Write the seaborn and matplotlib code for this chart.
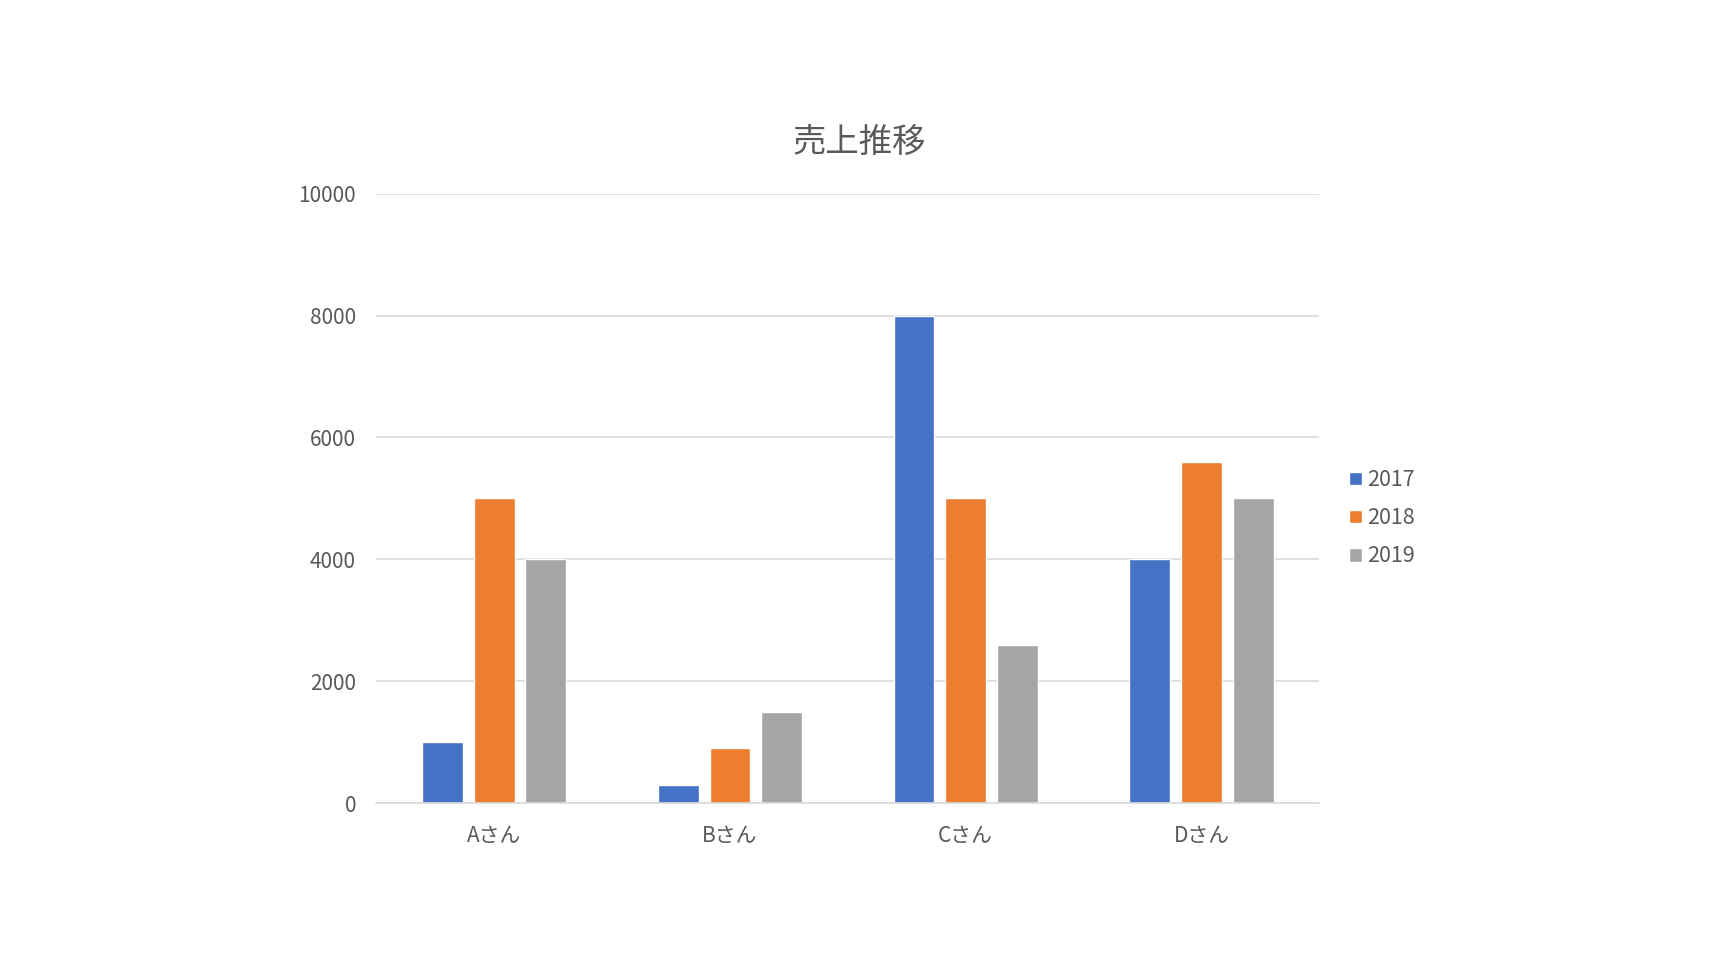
import pandas as pd
import matplotlib
matplotlib.use("Agg")
import matplotlib.pyplot as plt
import seaborn as sns

# データ
names = ["Aさん", "Bさん", "Cさん", "Dさん"]
years = ["2017", "2018", "2019"]
sales_2017 = [1000, 300, 8000, 4000]
sales_2018 = [5000, 900, 5000, 5600]
sales_2019 = [4000, 1500, 2600, 5000]
colors = ["#4472C4", "#ED7D31", "#A5A5A5"]

df = pd.DataFrame({
    "name": names * 3,
    "year": [y for y in years for _ in names],
    "sales": sales_2017 + sales_2018 + sales_2019,
})

sns.set_style("white")
plt.rcParams["font.family"] = ["Noto Sans CJK JP", "DejaVu Sans"]
txt = "#595959"

fig = plt.figure(figsize=(17.18, 9.64), dpi=100)
ax = fig.add_axes([0.219, 0.167, 0.549, 0.632])

sns.barplot(data=df, x="name", y="sales", hue="year", palette=colors,
            width=0.658, gap=0.21, ax=ax, saturation=1)

ax.set_xlim(-0.5, 3.5)
ax.set_ylim(0, 10000)
ax.set_yticks(range(0, 10001, 2000))
ax.yaxis.grid(True, color="#D9D9D9", linewidth=1.2)
ax.set_axisbelow(True)
for s in ["top", "right", "left"]:
    ax.spines[s].set_visible(False)
ax.spines["bottom"].set_color("#D9D9D9")
ax.spines["bottom"].set_linewidth(1.2)
ax.tick_params(axis="both", length=0, labelsize=15, colors=txt)
ax.tick_params(axis="y", pad=14.5)
ax.tick_params(axis="x", pad=15.5)
ax.set_xlabel("")
ax.set_ylabel("")

fig.text(0.500, 0.852, "売上推移", ha="center", va="center", fontsize=24, color=txt)

handles, labels = ax.get_legend_handles_labels()
leg = ax.legend(handles, labels, loc="center left", bbox_to_anchor=(0.779, 0.4625),
                bbox_transform=fig.transFigure, frameon=False, borderpad=0,
                handlelength=0.6, handleheight=0.6, handletextpad=0.25,
                labelspacing=0.75, fontsize=15.5)
for t in leg.get_texts():
    t.set_color(txt)

fig.savefig("out.png", dpi=100, facecolor="white")
